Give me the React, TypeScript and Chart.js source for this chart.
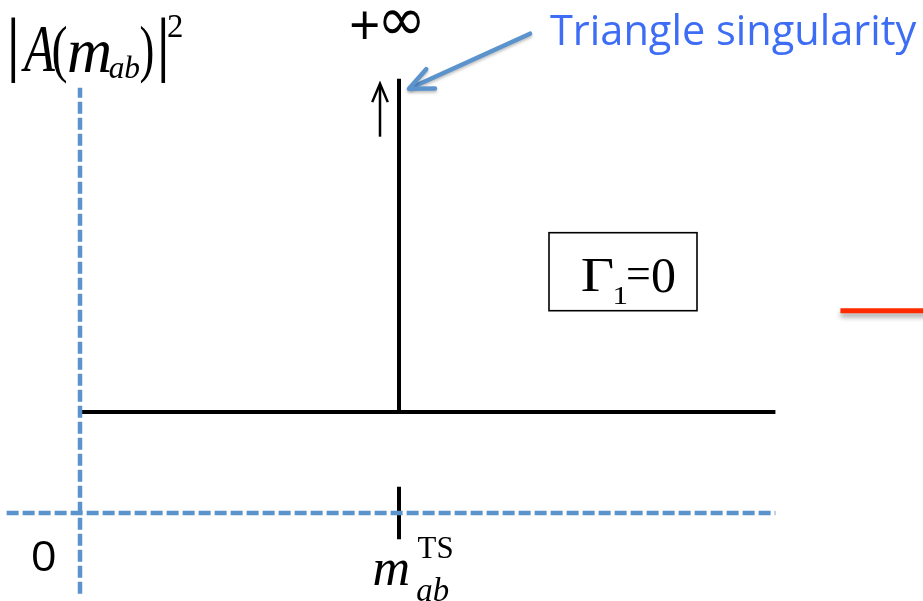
import React, { useEffect, useRef } from "react";
import { Chart, registerables } from "chart.js";

Chart.register(...registerables);

// Invariant mass m_ab, in units of the triangle-singularity position m_ab^TS
const singularityMass = [1];
const massAxisSpan = [-0.23, 2.18]; // dashed horizontal (mass) axis
const amplitudeAxisSpan = [-0.8, 4.21]; // dashed vertical |A|^2 axis

// |A(m_ab)|^2 for Γ1 = 0: flat level with a divergent spike at m_ab^TS
const curveMass = [0.006, 1, 1, 1, 2.18];
const curveAmplitude = [1, 1, 4.3, 1, 1];

// short marker on the mass axis at m_ab^TS
const markerMass = [1, 1];
const markerAmplitude = [-0.26, 0.26];

// text shown on the figure
const calloutText = ["Triangle singularity"];
const widthLabel = ["Γ", "1", "=", "0"];
const infinityLabel = ["+", "∞"];
const originLabel = ["0"];

const SERIF = '"Liberation Serif", "Times New Roman", serif';
const SANS = '"Open Sans", "Noto Sans", sans-serif';
const DEJAVU = '"DejaVu Sans", sans-serif';
const AXIS_BLUE = "#5b93cc";
const TEXT_BLUE = "#3d6df5";

const toPoints = (xs: number[], ys: number[]) => xs.map((x, i) => ({ x, y: ys[i] }));

function arrowHead(ctx: CanvasRenderingContext2D, tx: number, ty: number, fx: number, fy: number, len: number, spread: number) {
  const a = Math.atan2(fy - ty, fx - tx);
  ctx.beginPath();
  ctx.moveTo(tx + len * Math.cos(a - spread), ty + len * Math.sin(a - spread));
  ctx.lineTo(tx, ty);
  ctx.lineTo(tx + len * Math.cos(a + spread), ty + len * Math.sin(a + spread));
  ctx.stroke();
}

// Draws a string so that its inked glyphs fill the box [x0,x1]×[y0,y1]
// (height always; width too when fitWidth is set, otherwise centred).
function inkText(
  ctx: CanvasRenderingContext2D,
  s: string,
  x0: number, y0: number, x1: number, y1: number,
  style: string, family: string,
  color = "#000",
  fitWidth = true,
) {
  const probe = 100;
  ctx.font = `${style} ${probe}px ${family}`;
  let m = ctx.measureText(s);
  const h = m.actualBoundingBoxAscent + m.actualBoundingBoxDescent;
  const size = (probe * (y1 - y0)) / h;
  ctx.font = `${style} ${size}px ${family}`;
  m = ctx.measureText(s);
  const inkW = m.actualBoundingBoxLeft + m.actualBoundingBoxRight;
  const sx = fitWidth ? (x1 - x0) / inkW : 1;
  ctx.save();
  ctx.fillStyle = color;
  ctx.textAlign = "left";
  ctx.textBaseline = "alphabetic";
  ctx.translate((x0 + x1) / 2, y0 + m.actualBoundingBoxAscent);
  ctx.scale(sx, 1);
  ctx.fillText(s, -(m.actualBoundingBoxRight - m.actualBoundingBoxLeft) / 2, 0);
  ctx.restore();
}

const slideAnnotations = {
  id: "slideAnnotations",
  afterDatasetsDraw(chart: any) {
    const { ctx } = chart;
    const xs = chart.scales.x;
    const ys = chart.scales.y;
    const x0 = xs.getPixelForValue(0);
    const y0 = ys.getPixelForValue(0);
    const xTS = xs.getPixelForValue(singularityMass[0]);
    const yTop = ys.getPixelForValue(Math.max(...curveAmplitude));
    const xEnd = xs.getPixelForValue(massAxisSpan[1]);

    ctx.save();

    // |A(m_ab)|^2 axis title
    const L = x0 - 80;
    inkText(ctx, "|", L + 12, 17, L + 15, 83, "", SERIF, "#000", false);
    inkText(ctx, "A", L + 21, 27, L + 55, 72, "italic", SERIF);
    inkText(ctx, "(", L + 53, 25, L + 66, 83, "", SERIF);
    inkText(ctx, "m", L + 66, 42, L + 113, 72, "italic", SERIF, "#000", false);
    inkText(ctx, "ab", L + 111, 55, L + 137, 77, "italic", SERIF, "#000", false);
    inkText(ctx, ")", L + 141, 25, L + 153, 83, "", SERIF);
    inkText(ctx, "|", L + 162, 17, L + 165, 83, "", SERIF, "#000", false);
    inkText(ctx, "2", L + 168, 15, L + 182, 37, "", SERIF, "#000", false);

    // origin label
    inkText(ctx, originLabel[0], x0 - 47, y0 + 28, x0 - 25, y0 + 59, "", SANS);

    // m_ab^TS label under the marker
    inkText(ctx, "m", xTS - 27, y0 + 47, xTS + 11, y0 + 72, "italic", SERIF, "#000", false);
    inkText(ctx, "TS", xTS + 18, y0 + 24, xTS + 54, y0 + 45, "", SERIF, "#000", false);
    inkText(ctx, "ab", xTS + 16, y0 + 64, xTS + 51, y0 + 87, "italic", SERIF, "#000", false);

    // +∞ above the spike
    inkText(ctx, infinityLabel[0], xTS - 48, yTop - 68, xTS - 21, yTop - 40, "", SANS);
    inkText(ctx, infinityLabel[1], xTS - 16, yTop - 69, xTS + 21, yTop - 46, "", DEJAVU);

    // upward arrow beside the spike
    ctx.strokeStyle = "#000";
    ctx.lineWidth = 2.5;
    ctx.lineCap = "butt";
    ctx.lineJoin = "miter";
    ctx.beginPath();
    ctx.moveTo(xTS - 19, yTop + 58);
    ctx.lineTo(xTS - 19, yTop + 7);
    ctx.stroke();
    arrowHead(ctx, xTS - 19, yTop + 5, xTS - 19, yTop + 50, 20, 0.4);

    // callout arrow to the spike
    ctx.save();
    ctx.shadowColor = "rgba(0,0,0,0.25)";
    ctx.shadowBlur = 3;
    ctx.shadowOffsetY = 2;
    ctx.strokeStyle = AXIS_BLUE;
    ctx.lineWidth = 4.5;
    ctx.lineCap = "round";
    ctx.lineJoin = "round";
    const tipX = xTS + 10, tipY = yTop + 10;
    const tailX = xTS + 131, tailY = yTop - 45;
    ctx.beginPath();
    ctx.moveTo(tailX, tailY);
    ctx.lineTo(tipX + 2, tipY - 1);
    ctx.stroke();
    arrowHead(ctx, tipX, tipY, tailX, tailY, 26, 0.42);
    ctx.restore();

    // callout text
    inkText(ctx, calloutText[0], xTS + 151, 13, xTS + 518, 56, "", SANS, TEXT_BLUE);

    // Γ1 = 0 box
    const bx = xTS + 150, by = yTop + 154;
    ctx.strokeStyle = "#000";
    ctx.lineWidth = 1.6;
    ctx.strokeRect(bx, by, 148, 78);
    inkText(ctx, widthLabel[0], bx + 33, by + 26, bx + 64, by + 58, "", SERIF);
    inkText(ctx, widthLabel[1], bx + 66, by + 54, bx + 78, by + 71, "", SERIF);
    inkText(ctx, widthLabel[2], bx + 79, by + 35, bx + 100, by + 46, "", SERIF);
    inkText(ctx, widthLabel[3], bx + 103, by + 26, bx + 126, by + 60, "", SERIF, "#000", false);

    // red connector toward the next panel
    ctx.save();
    ctx.shadowColor = "rgba(0,0,0,0.35)";
    ctx.shadowBlur = 5;
    ctx.shadowOffsetY = 4;
    ctx.strokeStyle = "#ff2a00";
    ctx.lineWidth = 5;
    ctx.lineCap = "butt";
    ctx.beginPath();
    ctx.moveTo(xEnd + 65, yTop + 232);
    ctx.lineTo(chart.width + 5, yTop + 232);
    ctx.stroke();
    ctx.restore();

    ctx.restore();
  },
};

export default function App() {
  const ref = useRef<HTMLCanvasElement>(null);

  useEffect(() => {
    const canvas = ref.current;
    if (!canvas) return;
    const chart = new Chart(canvas, {
      type: "line",
      data: {
        datasets: [
          {
            data: toPoints([0, 0], amplitudeAxisSpan),
            borderColor: AXIS_BLUE,
            borderWidth: 4.5,
            borderDash: [12, 4],
            pointRadius: 0,
          },
          {
            data: toPoints(massAxisSpan, [0, 0]),
            borderColor: AXIS_BLUE,
            borderWidth: 4.5,
            borderDash: [12, 4],
            pointRadius: 0,
          },
          {
            data: toPoints(markerMass, markerAmplitude),
            borderColor: "#000",
            borderWidth: 4,
            pointRadius: 0,
          },
          {
            data: toPoints(curveMass, curveAmplitude),
            borderColor: "#000",
            borderWidth: 4,
            borderJoinStyle: "bevel",
            pointRadius: 0,
          },
        ],
      },
      options: {
        responsive: false,
        maintainAspectRatio: false,
        animation: false,
        events: [],
        layout: { padding: 0 },
        elements: { line: { tension: 0, fill: false } },
        plugins: {
          legend: { display: false },
          tooltip: { enabled: false },
          title: { display: false },
        },
        scales: {
          x: { type: "linear", display: false, min: -0.25078, max: 2.64264 },
          y: { type: "linear", display: false, min: -0.8713, max: 5.0792 },
        },
      },
      plugins: [slideAnnotations],
    });
    return () => chart.destroy();
  }, []);

  return (
    <div style={{ position: "fixed", left: 0, top: 0, width: 923, height: 601, background: "#fff" }}>
      <canvas ref={ref} width={923} height={601} style={{ display: "block", width: 923, height: 601 }} />
    </div>
  );
}
